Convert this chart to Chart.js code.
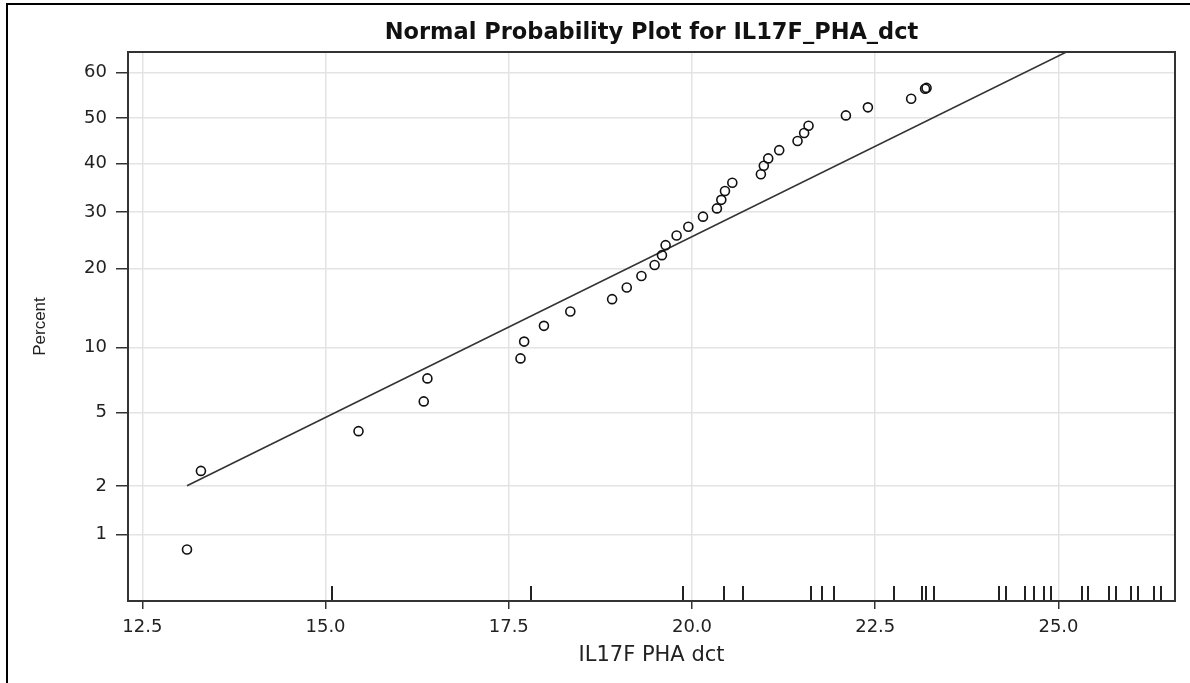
<!DOCTYPE html>
<html>
<head>
<meta charset="UTF-8" />
<title>Normal Probability Plot for IL17F_PHA_dct</title>
<script src="https://cdn.jsdelivr.net/npm/chart.js"></script>
<style>
  body { margin: 0; background: #fff; }
  canvas { display: block; }
</style>
</head>
<body>
<canvas id="probPlot" width="1190" height="683"></canvas>
<script>
  // uncensored observations and their plotting positions (percent)
  const obsValues = [13.11, 13.30, 15.45, 16.34, 16.39, 17.66, 17.71, 17.98, 18.34, 18.91,
    19.11, 19.31, 19.49, 19.59, 19.64, 19.79, 19.95, 20.15, 20.34, 20.40,
    20.45, 20.55, 20.94, 20.98, 21.04, 21.19, 21.44, 21.53, 21.59, 22.10,
    22.40, 22.99, 23.18, 23.20];
  const obsPercent = [0.80, 2.44, 4.02, 5.68, 7.30, 8.98, 10.6, 12.3, 14.0, 15.6,
    17.2, 18.9, 20.6, 22.2, 23.9, 25.6, 27.2, 29.1, 30.7, 32.4,
    34.2, 35.9, 37.7, 39.5, 41.1, 42.9, 44.9, 46.7, 48.3, 50.6,
    52.4, 54.3, 56.5, 56.7];

  // censored observations, drawn as a rug on the bottom axis
  const censoredValues = [15.09, 17.81, 19.88, 20.44, 20.69, 21.63, 21.78, 21.94, 22.75,
    23.14, 23.19, 23.30, 24.19, 24.28, 24.54, 24.67, 24.80, 24.90,
    25.32, 25.40, 25.69, 25.78, 25.99, 26.09, 26.30, 26.40];

  // fitted normal distribution
  const fitMean = 23.28;
  const fitSd = 4.952;

  // axes
  const xTicks = [12.5, 15.0, 17.5, 20.0, 22.5, 25.0];
  const xRange = [12.305, 26.59];
  const yTickPercent = [1, 2, 5, 10, 20, 30, 40, 50, 60];
  const yRangePercent = [0.35, 64.4];

  // inverse of the standard normal CDF (Acklam's approximation)
  function probit(p) {
    const a = [-3.969683028665376e+01, 2.209460984245205e+02, -2.759285104469687e+02,
      1.383577518672690e+02, -3.066479806614716e+01, 2.506628277459239e+00];
    const b = [-5.447609879822406e+01, 1.615858368580409e+02, -1.556989798598866e+02,
      6.680131188771972e+01, -1.328068155288572e+01];
    const c = [-7.784894002430293e-03, -3.223964580411365e-01, -2.400758277161838e+00,
      -2.549732939343734e+00, 4.374664141464968e+00, 2.938163982698783e+00];
    const d = [7.784695709041462e-03, 3.224671290700398e-01, 2.445134137142996e+00,
      3.754408661907416e+00];
    const plow = 0.02425;
    let q, r;
    if (p < plow) {
      q = Math.sqrt(-2 * Math.log(p));
      return (((((c[0]*q+c[1])*q+c[2])*q+c[3])*q+c[4])*q+c[5]) /
             ((((d[0]*q+d[1])*q+d[2])*q+d[3])*q+1);
    }
    if (p <= 1 - plow) {
      q = p - 0.5; r = q * q;
      return (((((a[0]*r+a[1])*r+a[2])*r+a[3])*r+a[4])*r+a[5])*q /
             (((((b[0]*r+b[1])*r+b[2])*r+b[3])*r+b[4])*r+1);
    }
    q = Math.sqrt(-2 * Math.log(1 - p));
    return -(((((c[0]*q+c[1])*q+c[2])*q+c[3])*q+c[4])*q+c[5]) /
            ((((d[0]*q+d[1])*q+d[2])*q+d[3])*q+1);
  }
  const toZ = pct => probit(pct / 100);

  const points = obsValues.map((v, i) => ({ x: v, y: toZ(obsPercent[i]) }));
  const fitLine = [obsValues[0], xRange[1]].map(v => ({ x: v, y: (v - fitMean) / fitSd }));

  // frame, title and censored rug
  const decorations = {
    id: 'decorations',
    afterDatasetsDraw(chart) {
      const { ctx, chartArea } = chart;
      const xs = chart.scales.x;
      ctx.save();
      ctx.strokeStyle = '#222';
      ctx.lineWidth = 2;
      ctx.beginPath();
      censoredValues.forEach(v => {
        const px = Math.round(xs.getPixelForValue(v));
        ctx.moveTo(px, chartArea.bottom);
        ctx.lineTo(px, chartArea.bottom - 15);
      });
      ctx.stroke();
      ctx.restore();
    },
    afterDraw(chart) {
      const { ctx, chartArea, width, height } = chart;
      ctx.save();
      // plot frame
      ctx.strokeStyle = '#333';
      ctx.lineWidth = 2;
      ctx.strokeRect(chartArea.left, chartArea.top,
        chartArea.right - chartArea.left, chartArea.bottom - chartArea.top);
      // outer page frame
      ctx.strokeStyle = '#000';
      ctx.beginPath();
      ctx.moveTo(width, 4);
      ctx.lineTo(7, 4);
      ctx.lineTo(7, height);
      ctx.stroke();
      // title
      ctx.fillStyle = '#111';
      ctx.font = 'bold 22.5px "DejaVu Sans"';
      ctx.textAlign = 'center';
      ctx.textBaseline = 'middle';
      ctx.fillText('Normal Probability Plot for IL17F_PHA_dct',
        (chartArea.left + chartArea.right) / 2, chartArea.top - 19);
      ctx.restore();
    }
  };

  const tickFont = { family: 'DejaVu Sans', size: 18 };

  new Chart(document.getElementById('probPlot'), {
    type: 'scatter',
    data: {
      datasets: [
        {
          label: 'Observed',
          data: points,
          pointStyle: 'circle',
          pointRadius: 4.5,
          pointBorderWidth: 1.6,
          pointBorderColor: '#111',
          pointBackgroundColor: 'rgba(0,0,0,0)',
          showLine: false
        },
        {
          label: 'Normal fit',
          type: 'line',
          data: fitLine,
          borderColor: '#333',
          borderWidth: 1.6,
          pointRadius: 0,
          fill: false
        }
      ]
    },
    options: {
      responsive: false,
      devicePixelRatio: 1,
      animation: false,
      layout: { padding: { top: 52, right: 15, left: 0, bottom: 0 } },
      plugins: {
        legend: { display: false },
        tooltip: { enabled: false }
      },
      scales: {
        x: {
          type: 'linear',
          min: xRange[0],
          max: xRange[1],
          afterBuildTicks: scale => { scale.ticks = xTicks.map(v => ({ value: v })); },
          afterFit: scale => { scale.height = 82; },
          ticks: {
            autoSkip: false,
            maxRotation: 0,
            padding: 8,
            color: '#222',
            font: tickFont,
            callback: v => v.toFixed(1)
          },
          grid: { color: '#e3e3e3', lineWidth: 1.5, tickLength: 8, tickColor: '#333', tickWidth: 1.5 },
          border: { display: false },
          title: {
            display: true,
            text: 'IL17F PHA dct',
            color: '#222',
            font: { family: 'DejaVu Sans', size: 21 },
            padding: { top: 0, bottom: 15 }
          }
        },
        y: {
          type: 'linear',
          min: toZ(yRangePercent[0]),
          max: toZ(yRangePercent[1]),
          afterBuildTicks: scale => { scale.ticks = yTickPercent.map(p => ({ value: toZ(p) })); },
          afterFit: scale => { scale.width = 128; },
          ticks: {
            autoSkip: false,
            padding: 9,
            color: '#222',
            font: tickFont,
            callback: (v, i) => String(yTickPercent[i])
          },
          grid: { color: '#e3e3e3', lineWidth: 1.5, tickLength: 12, tickColor: '#333', tickWidth: 1.5 },
          border: { display: false },
          title: {
            display: true,
            text: 'Percent',
            color: '#222',
            font: { family: 'Liberation Sans', size: 17 },
            padding: { top: 30, bottom: 0 }
          }
        }
      }
    },
    plugins: [decorations]
  });
</script>
</body>
</html>
